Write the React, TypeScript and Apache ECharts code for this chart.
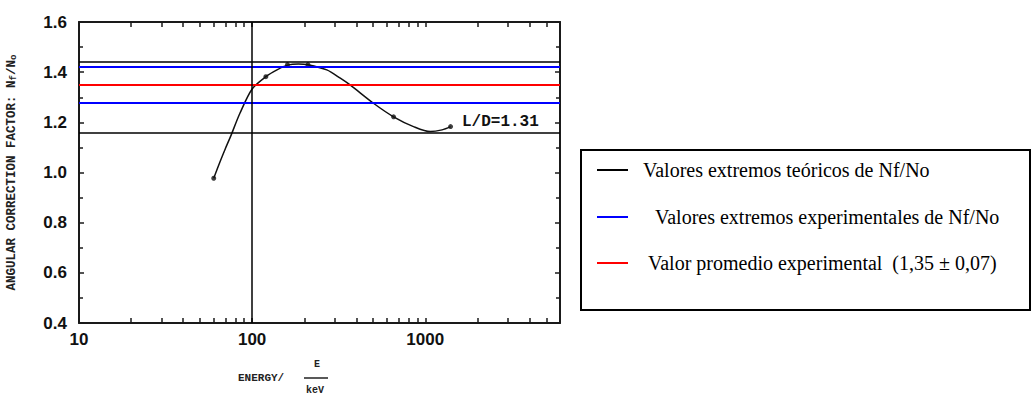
import React, { useEffect, useRef } from "react";
import * as echarts from "echarts";

// ---- data ----
const curveEnergy = [60, 65, 70, 75, 85, 100, 120, 140, 160, 185, 210, 270, 323, 368, 502, 656, 855, 1070, 1250, 1400];
const curveFactor = [0.977, 1.04, 1.095, 1.143, 1.236, 1.333, 1.382, 1.41, 1.428, 1.433, 1.43, 1.409, 1.376, 1.349, 1.276, 1.222, 1.183, 1.163, 1.17, 1.183];
const pointEnergy = [60, 120, 160, 210, 656, 1400];
const pointFactor = [0.977, 1.382, 1.43, 1.43, 1.222, 1.183];
const theoreticalLimits = [1.435, 1.155];
const experimentalLimits = [1.42, 1.28];
const experimentalMean = [1.35];
const referenceEnergy = [100];
const xLabelValues = [10, 100, 1000];
const xTickValues = [10, 20, 30, 40, 50, 60, 70, 80, 90, 100, 200, 300, 400, 500, 600, 700, 800, 900, 1000, 2000, 3000, 4000, 5000];
const xMin = 10;
const xMax = 6000;
const yMin = 0.4;
const yMax = 1.6;
const yStep = 0.2;
const legendNames = [
  "Valores extremos teóricos de Nf/No",
  "Valores extremos experimentales de Nf/No",
  "Valor promedio experimental  (1,35 ± 0,07)",
];
const curveLabel = "L/D=1.31";

export default function App() {
  const ref = useRef<HTMLDivElement>(null);
  useEffect(() => {
    if (!ref.current) return;
    const chart = echarts.init(ref.current, null, { renderer: "svg" });
    const frame = "#1a1a1a";
    const tickStyle = { show: true, inside: true, length: 5, lineStyle: { color: frame, width: 1.5 } };
    const curve = curveEnergy.map((e, i) => [e, curveFactor[i]]);
    const points = pointEnergy.map((e, i) => [e, pointFactor[i]]);
    const mark = (v: number, color: string, width: number, axis: "x" | "y") => ({
      [axis === "x" ? "xAxis" : "yAxis"]: v,
      lineStyle: { color, width, type: "solid" },
    });
    const markData = [
      ...theoreticalLimits.map((v) => mark(v, "#000000", 1.5, "y")),
      ...experimentalLimits.map((v) => mark(v, "#0000ff", 2, "y")),
      ...experimentalMean.map((v) => mark(v, "#ff0000", 2, "y")),
      ...referenceEnergy.map((v) => mark(v, "#000000", 1.5, "x")),
    ];
    const legendX = 581;
    const legendRows = [170, 217, 263];
    const legendColors = ["#000000", "#0000ff", "#ff0000"];
    const legendTextX = [643, 655, 648];
    const serif = "'Liberation Serif', 'Times New Roman', serif";
    const mono = "'Liberation Mono', 'DejaVu Sans Mono', monospace";
    chart.setOption({
      animation: false,
      backgroundColor: "#ffffff",
      grid: { left: 79, top: 22, width: 481, height: 301, containLabel: false },
      xAxis: [
        {
          type: "log",
          logBase: 10,
          min: xMin,
          max: xMax,
          position: "bottom",
          axisLine: { show: true, lineStyle: { color: frame, width: 2 } },
          axisTick: { ...tickStyle, customValues: xTickValues },
          axisLabel: {
            customValues: xLabelValues,
            formatter: (v: number) => (xLabelValues.includes(Math.round(v)) ? String(Math.round(v)) : ""),
            color: "#111",
            fontFamily: "'Liberation Sans', Arial, sans-serif",
            fontWeight: "bold",
            fontSize: 17,
            margin: 8,
          },
          splitLine: { show: false },
        },
        {
          type: "log",
          logBase: 10,
          min: xMin,
          max: xMax,
          position: "top",
          axisLine: { show: true, lineStyle: { color: frame, width: 2 } },
          axisTick: { ...tickStyle, customValues: xTickValues },
          axisLabel: { show: false },
          splitLine: { show: false },
        },
      ],
      yAxis: [
        {
          type: "value",
          min: yMin,
          max: yMax,
          interval: yStep,
          position: "left",
          axisLine: { show: true, lineStyle: { color: frame, width: 2 } },
          axisTick: tickStyle,
          minorTick: { show: true, splitNumber: 2, length: 4, lineStyle: { color: frame, width: 1.5 } },
          axisLabel: {
            formatter: (v: number) => v.toFixed(1),
            color: "#111",
            fontFamily: "'Liberation Sans', Arial, sans-serif",
            fontWeight: "bold",
            fontSize: 17,
            margin: 12,
          },
          splitLine: { show: false },
          name: "{t|ANGULAR CORRECTION FACTOR: N}{s|f}{t|/N}{s|o}",
          nameLocation: "middle",
          nameRotate: 90,
          nameGap: 61,
          nameTextStyle: {
            rich: {
              t: { fontFamily: mono, fontWeight: "bold", fontSize: 12.5, color: "#222" },
              s: { fontFamily: mono, fontWeight: "bold", fontSize: 9, color: "#222", verticalAlign: "bottom" },
            },
          },
        },
        {
          type: "value",
          min: yMin,
          max: yMax,
          interval: yStep,
          position: "right",
          axisLine: { show: true, lineStyle: { color: frame, width: 2 } },
          axisTick: tickStyle,
          minorTick: { show: true, splitNumber: 2, length: 4, lineStyle: { color: frame, width: 1.5 } },
          axisLabel: { show: false },
          splitLine: { show: false },
        },
      ],
      series: [
        {
          name: "curve",
          type: "line",
          data: curve,
          smooth: 0.3,
          showSymbol: false,
          lineStyle: { color: "#111", width: 1.5 },
          z: 3,
          markLine: {
            silent: true,
            symbol: ["none", "none"],
            label: { show: false },
            emphasis: { disabled: true },
            data: markData,
          },
        },
        {
          name: "points",
          type: "scatter",
          data: points,
          symbolSize: 5,
          itemStyle: { color: "#111" },
          z: 4,
        },
      ],
      graphic: [
        {
          type: "text",
          left: 462,
          top: 114,
          style: { text: curveLabel, font: `bold 16px ${mono}`, fill: "#111" },
        },
        // x axis name: ENERGY/ E over keV
        {
          type: "group",
          left: 238,
          top: 359,
          children: [
            { type: "text", x: 0, y: 15, style: { text: "ENERGY/", font: `bold 11px ${mono}`, fill: "#222" } },
            { type: "text", x: 76, y: 2, style: { text: "E", font: `bold 10px ${mono}`, fill: "#222" } },
            { type: "line", shape: { x1: 66, y1: 21, x2: 90, y2: 21 }, style: { stroke: "#222", lineWidth: 1.5 } },
            { type: "text", x: 68, y: 28, style: { text: "keV", font: `bold 10px ${mono}`, fill: "#222" } },
          ],
        },
        // legend box
        {
          type: "rect",
          shape: { x: legendX, y: 150, width: 449, height: 160 },
          style: { fill: "#ffffff", stroke: "#000000", lineWidth: 2 },
        },
        ...legendNames.flatMap((name, i) => [
          {
            type: "line",
            shape: { x1: 597, y1: legendRows[i], x2: 628, y2: legendRows[i] },
            style: { stroke: legendColors[i], lineWidth: 2 },
          },
          {
            type: "text",
            x: legendTextX[i],
            y: legendRows[i],
            style: {
              text: name,
              font: `20px ${serif}`,
              fill: "#000",
              verticalAlign: "middle",
            },
          },
        ]),
      ],
    });
    return () => chart.dispose();
  }, []);
  return (
    <div
      ref={ref}
      style={{ position: "fixed", left: 0, top: 0, width: 1034, height: 397, background: "#fff" }}
    />
  );
}
